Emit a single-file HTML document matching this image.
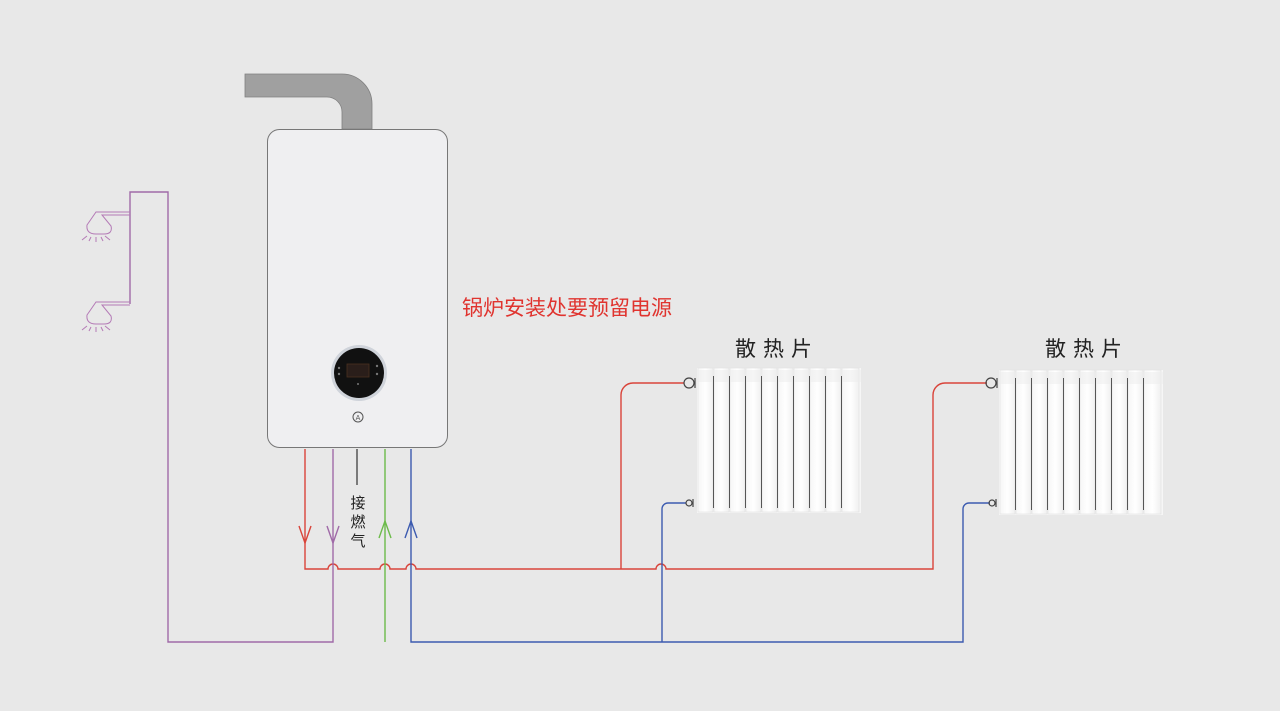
<!DOCTYPE html>
<html><head><meta charset="utf-8"><style>
html,body{margin:0;padding:0;background:#e8e8e8;}
svg{display:block}
text{font-family:"Liberation Sans","Noto Sans CJK SC",sans-serif;}
</style></head><body>
<svg width="1280" height="711" viewBox="0 0 1280 711" xmlns="http://www.w3.org/2000/svg">
<rect width="1280" height="711" fill="#e8e8e8"/>
<defs>
<linearGradient id="fin" x1="0" x2="1" y1="0" y2="0">
<stop offset="0" stop-color="#f6f6f6"/><stop offset="0.5" stop-color="#ffffff"/><stop offset="1" stop-color="#f0f0f0"/>
</linearGradient>
<g id="rad">
<rect x="0" y="0" width="164" height="145" fill="#f6f6f6"/>
<g fill="url(#fin)" stroke="#e0e0e0" stroke-width="0.6">
<rect x="1" y="0" width="15" height="144"/><rect x="17" y="0" width="15" height="144"/>
<rect x="33" y="0" width="15" height="144"/><rect x="49" y="0" width="15" height="144"/>
<rect x="65" y="0" width="15" height="144"/><rect x="81" y="0" width="15" height="144"/>
<rect x="97" y="0" width="15" height="144"/><rect x="113" y="0" width="15" height="144"/>
<rect x="129" y="0" width="15" height="144"/><rect x="145" y="0" width="17" height="144"/>
</g>
<rect x="0" y="2" width="164" height="12" fill="#ebebeb" opacity="0.5"/>
<g stroke="#555" stroke-width="1"><line x1="16.5" y1="8" x2="16.5" y2="140"/><line x1="32.5" y1="8" x2="32.5" y2="140"/><line x1="48.5" y1="8" x2="48.5" y2="140"/><line x1="64.5" y1="8" x2="64.5" y2="140"/><line x1="80.5" y1="8" x2="80.5" y2="140"/><line x1="96.5" y1="8" x2="96.5" y2="140"/><line x1="112.5" y1="8" x2="112.5" y2="140"/><line x1="128.5" y1="8" x2="128.5" y2="140"/><line x1="144.5" y1="8" x2="144.5" y2="140"/></g>
</g>
</defs>

<path d="M245 74 H342 A30 30 0 0 1 372 104 V129 H342 V112 A15 15 0 0 0 327 97 H245 Z" fill="#a0a0a0" stroke="#808080" stroke-width="0.8"/>
<rect x="267.5" y="129.5" width="180" height="318" rx="12" fill="#efeff1" stroke="#777" stroke-width="1"/>
<circle cx="359" cy="373" r="28" fill="#cfd3da"/>
<circle cx="359" cy="373" r="25" fill="#111"/>
<rect x="347" y="364" width="22" height="13" fill="#2a1e1a" stroke="#4a3020" stroke-width="0.8"/>
<g fill="#777"><circle cx="339" cy="368" r="1.2"/><circle cx="339" cy="374" r="1.2"/><circle cx="377" cy="366" r="1.2"/><circle cx="377" cy="374" r="1.2"/><circle cx="358" cy="384" r="1"/></g>
<circle cx="358" cy="417" r="5" fill="none" stroke="#555" stroke-width="1"/>
<text x="358" y="420" font-size="7" text-anchor="middle" fill="#555">A</text>

<text x="462" y="315" font-size="21" fill="#e0342f">锅炉安装处要预留电源</text>
<text x="777" y="356" font-size="21" fill="#222" text-anchor="middle" letter-spacing="7">散热片</text>
<text x="1087" y="356" font-size="21" fill="#222" text-anchor="middle" letter-spacing="7">散热片</text>

<line x1="357" y1="449" x2="357" y2="485" stroke="#555" stroke-width="1.5"/>
<text x="358" y="508" font-size="15" fill="#222" text-anchor="middle">接</text>
<text x="358" y="527" font-size="15" fill="#222" text-anchor="middle">燃</text>
<text x="358" y="546" font-size="15" fill="#222" text-anchor="middle">气</text>

<g fill="none" stroke-width="1.4">
<path d="M305 449 V569 H328 A5 5 0 0 1 338 569 H380 A5 5 0 0 1 390 569 H406 A5 5 0 0 1 416 569 H656 A5 5 0 0 1 666 569 H933 V395 A12 12 0 0 1 945 383 H987" stroke="#d9443a"/>
<path d="M621 569 V395 A12 12 0 0 1 633 383 H684" stroke="#d9443a"/>
<path d="M299 526 L305 543 L311 526" stroke="#d9443a"/>
<path d="M333 449 V642 H168 V192 H130 V304" stroke="#a06aa8"/>
<path d="M327 526 L333 543 L339 526" stroke="#a06aa8"/>
<path d="M130 212 H96 L87 225 Q86 234 96 234 H104 Q113 234 111 226 L102 215 H130" stroke="#b47ab6" stroke-width="1"/>
<path d="M130 302 H96 L87 315 Q86 324 96 324 H104 Q113 324 111 316 L102 305 H130" stroke="#b47ab6" stroke-width="1"/>
<path d="M82 240 L87 236 M89 241 L91 237 M96 242 L96 237 M103 241 L101 237 M110 240 L105 236" stroke="#b47ab6" stroke-width="1"/>
<path d="M82 330 L87 326 M89 331 L91 327 M96 332 L96 327 M103 331 L101 327 M110 330 L105 326" stroke="#b47ab6" stroke-width="1"/>
<path d="M385 449 V642" stroke="#6cbb4a"/>
<path d="M379 538 L385 521 L391 538" stroke="#6cbb4a"/>
<path d="M411 449 V642 H963 V509 A6 6 0 0 1 969 503 H990" stroke="#3c5bb0"/>
<path d="M662 642 V509 A6 6 0 0 1 668 503 H686" stroke="#3c5bb0"/>
<path d="M405 538 L411 521 L417 538" stroke="#3c5bb0"/>
</g>

<use href="#rad" x="697" y="368"/>
<use href="#rad" x="999" y="370"/>
<g fill="none" stroke="#444" stroke-width="1.2">
<circle cx="689" cy="383" r="5"/><line x1="695" y1="378" x2="695" y2="388"/>
<circle cx="991" cy="383" r="5"/><line x1="997" y1="378" x2="997" y2="388"/>
<circle cx="689" cy="503" r="3"/><line x1="693" y1="499" x2="693" y2="507"/>
<circle cx="992" cy="503" r="3"/><line x1="996" y1="499" x2="996" y2="507"/>
</g>
</svg>
</body></html>
